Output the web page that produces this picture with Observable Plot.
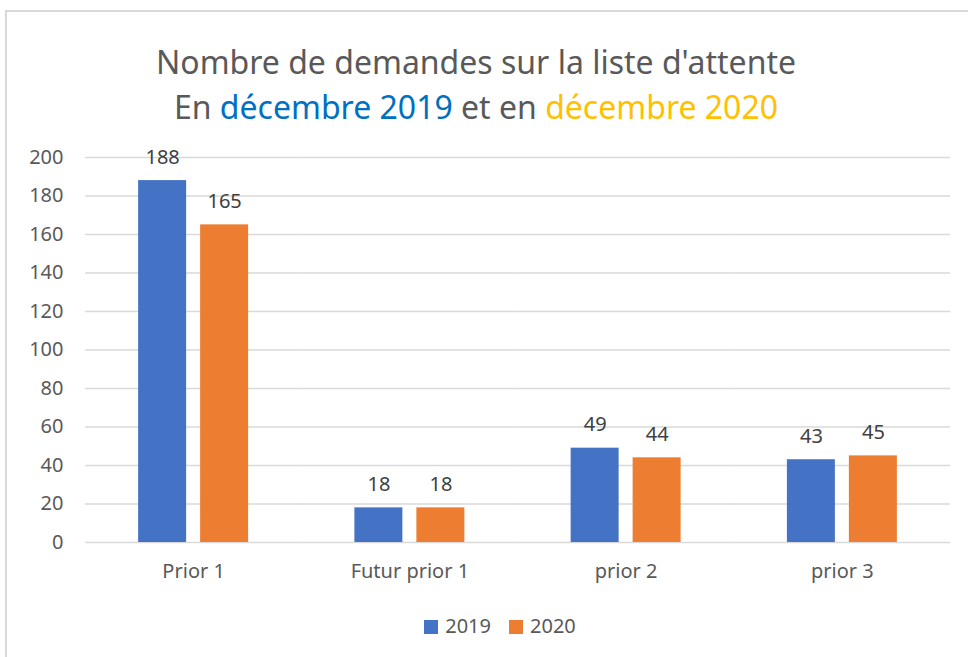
<!DOCTYPE html>
<html><head><meta charset="utf-8">
<script src="https://cdn.jsdelivr.net/npm/d3@7"></script>
<script src="https://cdn.jsdelivr.net/npm/@observablehq/plot@0.6"></script>
<style>
body{margin:0;background:#fff;font-family:"Noto Sans",sans-serif;}
#wrap{position:relative;width:968px;height:657px;overflow:hidden;}
#border{position:absolute;left:5px;top:10px;width:1000px;height:700px;border:2px solid #d9d9d9;box-sizing:border-box;}
#title{position:absolute;left:0;top:39px;width:952px;text-align:center;color:#595959;font-size:32px;line-height:45px;}
#chart{position:absolute;left:0;top:135px;}
#legend{position:absolute;left:0;top:612px;width:1000px;display:flex;justify-content:center;gap:18px;color:#595959;font-size:20px;}
.sw{display:inline-block;width:14px;height:14px;margin-right:7px;vertical-align:-1px;}
</style></head><body>
<div id="wrap">
<div id="border"></div>
<div id="title">Nombre de demandes sur la liste d'attente<br>En <span style="color:#0070C0">décembre 2019</span> et en <span style="color:#FFC000">décembre 2020</span></div>
<div id="chart"></div>
<div id="legend"></div>
</div>
<script>
const categories = ["Prior 1", "Futur prior 1", "prior 2", "prior 3"];
const years = ["2019", "2020"];
const values2019 = [188, 18, 49, 43];
const values2020 = [165, 18, 44, 45];
const yTicks = [0, 20, 40, 60, 80, 100, 120, 140, 160, 180, 200];
const colors = ["#4472C4", "#ED7D31"];

const data = categories.flatMap((c, i) => [
  {cat: c, year: years[0], value: values2019[i]},
  {cat: c, year: years[1], value: values2020[i]}
]);

const chart = Plot.plot({
  width: 968,
  height: 465,
  marginTop: 22,
  marginBottom: 58,
  marginLeft: 85,
  marginRight: 18,
  style: {fontFamily: "Noto Sans, sans-serif", fontSize: "20px", color: "#595959", background: "transparent"},
  fx: {domain: categories, padding: 0, round: false, axis: "bottom", label: null, tickSize: 0, tickPadding: 21},
  x: {domain: years, paddingInner: 0.226, paddingOuter: 0.857, round: false, axis: null},
  y: {domain: [0, 200], ticks: yTicks, label: null, tickSize: 0, tickPadding: 22},
  color: {domain: years, range: colors},
  marks: [
    Plot.ruleY(yTicks, {stroke: "#d9d9d9", strokeWidth: 1.5, strokeOpacity: 1}),
    Plot.barY(data, {fx: "cat", x: "year", y: "value", fill: "year"}),
    Plot.text(data, {fx: "cat", x: "year", y: "value", text: d => String(d.value), lineAnchor: "bottom", dy: -17, fill: "#404040", fontSize: 20})
  ]
});
document.getElementById("chart").appendChild(chart);

const legend = document.getElementById("legend");
years.forEach((y, i) => {
  const s = document.createElement("span");
  s.innerHTML = `<span class="sw" style="background:${colors[i]}"></span>${y}`;
  legend.appendChild(s);
});
</script>
</body></html>
